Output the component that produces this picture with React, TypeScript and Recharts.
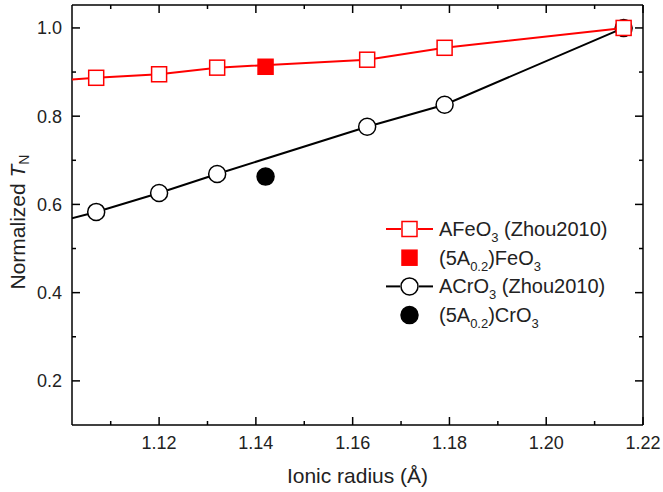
import React from 'react'
import {
  ScatterChart,
  Scatter,
  XAxis,
  YAxis,
  Legend
} from 'recharts'

// ionic radius of A (Å), first point (Tb) sits just outside the frame
const radius = [1.095, 1.107, 1.12, 1.132, 1.163, 1.179, 1.216]
const feoNorm = [0.878, 0.887, 0.895, 0.91, 0.928, 0.955, 1.0]
const croNorm = [0.549, 0.583, 0.626, 0.669, 0.776, 0.826, 1.0]

const hiEntropyRadius = [1.142]
const feoHiEntropy = [0.912]
const croHiEntropy = [0.663]

const xTicks = [1.11, 1.12, 1.13, 1.14, 1.15, 1.16, 1.17, 1.18, 1.19, 1.2, 1.21, 1.22]
const yTicks = [0.2, 0.3, 0.4, 0.5, 0.6, 0.7, 0.8, 0.9, 1.0]

const RED = '#ff0000'
const FONT = '"Liberation Sans", Arial, sans-serif'

const toPoints = (xs: number[], ys: number[]) => xs.map((x, i) => ({ x, y: ys[i] }))

const feoData = toPoints(radius, feoNorm)
const croData = toPoints(radius, croNorm)
const feoHiData = toPoints(hiEntropyRadius, feoHiEntropy)
const croHiData = toPoints(hiEntropyRadius, croHiEntropy)

const isMajorX = (v: number) => Math.round(v * 100) % 2 === 0
const isMajorY = (v: number) => Math.round(v * 10) % 2 === 0

const square = (fill: string) => (p: any) => (
  <rect x={p.cx - 7.5} y={p.cy - 7.5} width={15} height={15} fill={fill} stroke={RED} strokeWidth={1.5} />
)
const circle = (fill: string) => (p: any) => (
  <circle cx={p.cx} cy={p.cy} r={8.5} fill={fill} stroke="#000" strokeWidth={1.5} />
)

const BottomTick = (p: any) => {
  const v = p.payload.value
  const major = isMajorX(v)
  return (
    <g>
      <line x1={p.x} x2={p.x} y1={p.y} y2={p.y - (major ? 8 : 4)} stroke="#000" strokeWidth={1.5} />
      {major && (
        <text x={p.x} y={p.y + 24} textAnchor="middle" fontSize={18} fontFamily={FONT} fill="#222">
          {v.toFixed(2)}
        </text>
      )}
    </g>
  )
}

const TopTick = (p: any) => {
  const major = isMajorX(p.payload.value)
  return <line x1={p.x} x2={p.x} y1={p.y} y2={p.y + (major ? 8 : 4)} stroke="#000" strokeWidth={1.5} />
}

const LeftTick = (p: any) => {
  const v = p.payload.value
  const major = isMajorY(v)
  return (
    <g>
      <line x1={p.x} x2={p.x + (major ? 8 : 4)} y1={p.y} y2={p.y} stroke="#000" strokeWidth={1.5} />
      {major && (
        <text x={p.x - 10} y={p.y + 6.5} textAnchor="end" fontSize={18} fontFamily={FONT} fill="#222">
          {v.toFixed(1)}
        </text>
      )}
    </g>
  )
}

const RightTick = (p: any) => {
  const major = isMajorY(p.payload.value)
  return <line x1={p.x} x2={p.x - (major ? 8 : 4)} y1={p.y} y2={p.y} stroke="#000" strokeWidth={1.5} />
}

const XTitle = (p: any) => {
  const vb = p.viewBox
  return (
    <text x={vb.x + vb.width / 2} y={vb.y + 58} textAnchor="middle" fontSize={21} fontFamily={FONT} fill="#222">
      Ionic radius (Å)
    </text>
  )
}

const YTitle = (p: any) => {
  const vb = p.viewBox
  const cx = vb.x + vb.width - 47
  const cy = vb.y + vb.height / 2 + 7
  return (
    <text x={cx} y={cy} transform={`rotate(-90, ${cx}, ${cy})`} textAnchor="middle" fontSize={21} fontFamily={FONT} fill="#222">
      Normalized <tspan fontStyle="italic">T</tspan>
      <tspan fontSize={14} dy={4}>N</tspan>
    </text>
  )
}

// legend label pieces: [text, isSubscript]
type Piece = [string, boolean]
const legendLabels: Piece[][] = [
  [['AFeO', false], ['3', true], [' (Zhou2010)', false]],
  [['(5A', false], ['0.2', true], [')FeO', false], ['3', true]],
  [['ACrO', false], ['3', true], [' (Zhou2010)', false]],
  [['(5A', false], ['0.2', true], [')CrO', false], ['3', true]]
]

const renderPieces = (pieces: Piece[]) =>
  pieces.map(([t, sub], i) => {
    const prevSub = i > 0 && pieces[i - 1][1]
    const dy = sub ? 6 : prevSub ? -6 : 0
    return (
      <tspan key={i} dy={dy} fontSize={sub ? 13 : 20}>
        {t}
      </tspan>
    )
  })

const renderLegend = () => {
  const rowH = 28.7
  const row = (i: number) => 14 + i * rowH
  const text = (i: number) => (
    <text x={59} y={row(i) + 7} fontSize={20} fontFamily={FONT} fill="#222">
      {renderPieces(legendLabels[i])}
    </text>
  )
  return (
    <svg width={260} height={125} style={{ display: 'block' }}>
      <line x1={6} x2={21} y1={row(0)} y2={row(0)} stroke={RED} strokeWidth={2} />
      <line x1={38} x2={53} y1={row(0)} y2={row(0)} stroke={RED} strokeWidth={2} />
      <rect x={22} y={row(0) - 7.5} width={15} height={15} fill="#fff" stroke={RED} strokeWidth={1.5} />
      {text(0)}

      <rect x={22} y={row(1) - 7.5} width={15} height={15} fill={RED} stroke={RED} strokeWidth={1.5} />
      {text(1)}

      <line x1={6} x2={20} y1={row(2)} y2={row(2)} stroke="#000" strokeWidth={2} />
      <line x1={39} x2={53} y1={row(2)} y2={row(2)} stroke="#000" strokeWidth={2} />
      <circle cx={29.5} cy={row(2)} r={8.5} fill="#fff" stroke="#000" strokeWidth={1.5} />
      {text(2)}

      <circle cx={29.5} cy={row(3)} r={8.5} fill="#000" stroke="#000" strokeWidth={1.5} />
      {text(3)}
    </svg>
  )
}

const axisLine = { stroke: '#000', strokeWidth: 1.5 }

export default function App() {
  const xDomain: [number, number] = [1.102, 1.22]
  const yDomain: [number, number] = [0.1, 1.052]
  return (
    <div style={{ width: 663, height: 492, background: '#fff' }}>
      <style>{'body{margin:0}'}</style>
      <ScatterChart width={663} height={492} margin={{ top: 4, right: 19, bottom: 66, left: 71 }}>
        <XAxis
          xAxisId="b"
          type="number"
          dataKey="x"
          orientation="bottom"
          domain={xDomain}
          allowDataOverflow
          ticks={xTicks}
          interval={0}
          height={1}
          tickSize={0}
          tickMargin={0}
          tickLine={false}
          axisLine={axisLine}
          tick={BottomTick}
          label={XTitle}
        />
        <XAxis
          xAxisId="t"
          type="number"
          dataKey="x"
          orientation="top"
          domain={xDomain}
          allowDataOverflow
          ticks={xTicks}
          interval={0}
          height={1}
          tickSize={0}
          tickMargin={0}
          tickLine={false}
          axisLine={axisLine}
          tick={TopTick}
        />
        <YAxis
          yAxisId="l"
          type="number"
          dataKey="y"
          orientation="left"
          domain={yDomain}
          allowDataOverflow
          ticks={yTicks}
          interval={0}
          width={1}
          tickSize={0}
          tickMargin={0}
          tickLine={false}
          axisLine={axisLine}
          tick={LeftTick}
          label={YTitle}
        />
        <YAxis
          yAxisId="r"
          type="number"
          dataKey="y"
          orientation="right"
          domain={yDomain}
          allowDataOverflow
          ticks={yTicks}
          interval={0}
          width={1}
          tickSize={0}
          tickMargin={0}
          tickLine={false}
          axisLine={axisLine}
          tick={RightTick}
        />
        <Legend
          layout="vertical"
          align="center"
          verticalAlign="middle"
          content={renderLegend}
          wrapperStyle={{ left: 380, top: 215, width: 260, height: 125 }}
        />
        <Scatter
          name="ACrO3 (Zhou2010)"
          data={croData}
          xAxisId="b"
          yAxisId="l"
          line={{ stroke: '#000', strokeWidth: 2 }}
          lineType="joint"
          shape={circle('#fff')}
          isAnimationActive={false}
        />
        <Scatter
          name="(5A0.2)CrO3"
          data={croHiData}
          xAxisId="b"
          yAxisId="l"
          shape={circle('#000')}
          isAnimationActive={false}
        />
        <Scatter
          name="AFeO3 (Zhou2010)"
          data={feoData}
          xAxisId="t"
          yAxisId="r"
          line={{ stroke: RED, strokeWidth: 2 }}
          lineType="joint"
          shape={square('#fff')}
          isAnimationActive={false}
        />
        <Scatter
          name="(5A0.2)FeO3"
          data={feoHiData}
          xAxisId="t"
          yAxisId="r"
          shape={square(RED)}
          isAnimationActive={false}
        />
      </ScatterChart>
    </div>
  )
}
